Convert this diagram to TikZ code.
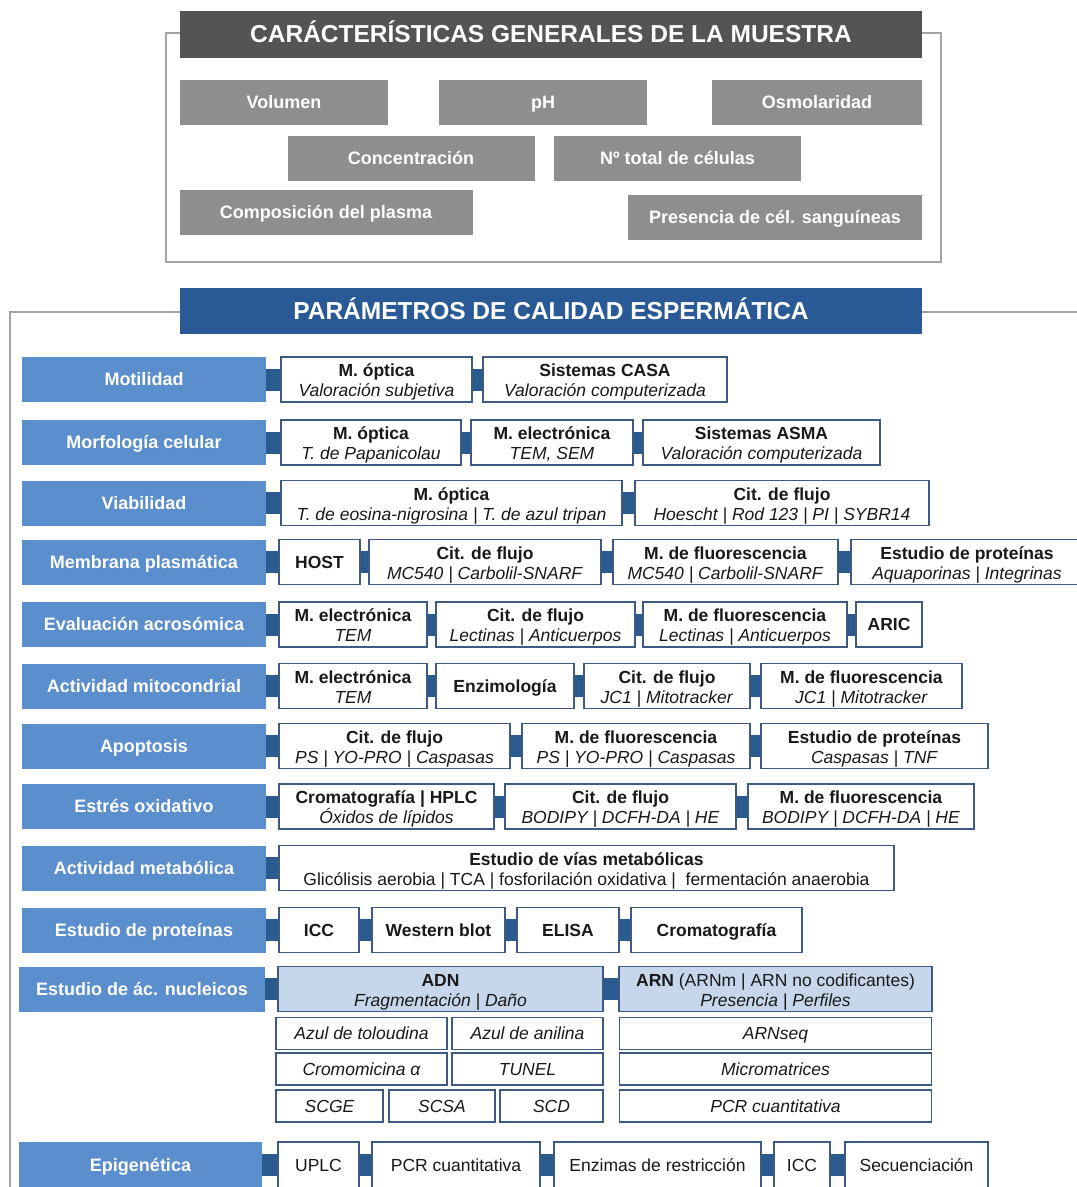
\documentclass[tikz,border=0pt]{standalone}
\usepackage{fontspec}
\setmainfont{Liberation Sans}
\usetikzlibrary{backgrounds}

\definecolor{graydark}{HTML}{545454}
\definecolor{featgray}{HTML}{8E8E8E}
\definecolor{titleblue}{HTML}{2A5A95}
\definecolor{parblue}{HTML}{5B8ECC}
\definecolor{linkblue}{HTML}{2B5A8F}
\definecolor{edgeblue}{HTML}{3D5B82}
\definecolor{nucblue}{HTML}{C6D6EB}
\definecolor{framegray}{HTML}{A3A3A3}

% two lines with fixed struts, so all boxes sit alike
\newcommand{\lineas}[2]{\rule{0pt}{18.5pt}#1\\#2\rule[-4pt]{0pt}{4pt}}
% bold technique + italic detail
\newcommand{\tecnica}[2]{\lineas{\textbf{#1}}{\textit{#2}}}

\begin{document}
\begin{tikzpicture}[x=1pt,y=-1pt,
  every node/.style={inner sep=0pt,outer sep=0pt,align=center},
  oneline/.style={text height=12.7pt,text depth=0pt},
  title/.style={text=white,minimum width=742pt,minimum height=47pt,text height=17.5pt,text depth=0pt,font=\bfseries\fontsize{24.5}{28}\selectfont},
  feature/.style={oneline,fill=featgray,text=white,minimum height=45pt,font=\bfseries\fontsize{18}{21}\selectfont},
  param/.style={oneline,fill=parblue,text=white,minimum width=244pt,minimum height=45pt,font=\bfseries\fontsize{18}{21}\selectfont},
  method/.style={draw=edgeblue,line width=1.3pt,fill=white,text=black!90,minimum height=45pt,font=\fontsize{17.5}{20}\selectfont},
  tag/.style={method,oneline},
  nucleic/.style={method,fill=nucblue},
  assay/.style={tag,minimum height=32pt,font=\itshape\fontsize{17.5}{20}\selectfont},
  link/.style={draw=linkblue,line width=22pt},
  frame/.style={draw=framegray,line width=1.4pt}]
\useasboundingbox (0,0) rectangle (1077,1187);

% general features of the sample
\draw[frame] (166,33) rectangle (941,262);
\path (551,34) node (muestra) [title,fill=graydark] {CARÁCTERÍSTICAS GENERALES DE LA MUESTRA};
\path (284,102) node (volumen) [feature,minimum width=208pt] {Volumen};
\path (543,102) node (ph) [feature,minimum width=208pt] {pH};
\path (817,102) node (osmol) [feature,minimum width=210pt] {Osmolaridad};
\path (411,158) node (concen) [feature,minimum width=247pt] {Concentración};
\path (677.5,158) node (ncel) [feature,minimum width=247pt] {Nº total de células};
\path (326,212) node (plasma) [feature,minimum width=293pt] {Composición del plasma};
\path (775,217) node (sangre) [feature,minimum width=294pt] {Presencia de cél. sanguíneas};

% sperm quality parameters
\draw[frame] (10,1195) -- (10,312) -- (1090,312);
\path (551,311) node (calidad) [title,fill=titleblue,minimum height=46pt] {PARÁMETROS DE CALIDAD ESPERMÁTICA};

\path (144,379.5) node (motil) [param] {Motilidad};
\path (376.5,379.5) node (motil1) [method,minimum width=191pt] {\tecnica{M. óptica}{Valoración subjetiva}};
\path (605,379.5) node (motil2) [method,minimum width=244pt] {\tecnica{Sistemas CASA}{Valoración computerizada}};

\path (144,442.5) node (morfo) [param] {Morfología celular};
\path (371,442.5) node (morfo1) [method,minimum width=180pt] {\tecnica{M. óptica}{T. de Papanicolau}};
\path (552,442.5) node (morfo2) [method,minimum width=162pt] {\tecnica{M. electrónica}{TEM, SEM}};
\path (761.5,442.5) node (morfo3) [method,minimum width=237pt] {\tecnica{Sistemas ASMA}{Valoración computerizada}};

\path (144,503) node (viab) [param] {Viabilidad};
\path (451.5,503) node (viab1) [method,minimum width=341pt] {\tecnica{M. óptica}{T. de eosina-nigrosina | T. de azul tripan}};
\path (782,503) node (viab2) [method,minimum width=294pt] {\tecnica{Cit. de flujo}{Hoescht | Rod 123 | PI | SYBR14}};

\path (144,562) node (membr) [param] {Membrana plasmática};
\path (319.5,562) node (membr1) [tag,minimum width=81pt] {\textbf{HOST}};
\path (485,562) node (membr2) [method,minimum width=232pt] {\tecnica{Cit. de flujo}{MC540 | Carbolil-SNARF}};
\path (725.5,562) node (membr3) [method,minimum width=225pt] {\tecnica{M. de fluorescencia}{MC540 | Carbolil-SNARF}};
\path (967,562) node (membr4) [method,minimum width=232pt] {\tecnica{Estudio de proteínas}{Aquaporinas | Integrinas}};

\path (144,624.5) node (acros) [param] {Evaluación acrosómica};
\path (353,624.5) node (acros1) [method,minimum width=148pt] {\tecnica{M. electrónica}{TEM}};
\path (535.5,624.5) node (acros2) [method,minimum width=199pt] {\tecnica{Cit. de flujo}{Lectinas | Anticuerpos}};
\path (745,624.5) node (acros3) [method,minimum width=204pt] {\tecnica{M. de fluorescencia}{Lectinas | Anticuerpos}};
\path (889,624.5) node (acros4) [tag,minimum width=66pt] {\textbf{ARIC}};

\path (144,686) node (mitoc) [param] {Actividad mitocondrial};
\path (353,686) node (mitoc1) [method,minimum width=148pt] {\tecnica{M. electrónica}{TEM}};
\path (505,686) node (mitoc2) [tag,minimum width=138pt] {\textbf{Enzimología}};
\path (667,686) node (mitoc3) [method,minimum width=166pt] {\tecnica{Cit. de flujo}{JC1 | Mitotracker}};
\path (861.5,686) node (mitoc4) [method,minimum width=201pt] {\tecnica{M. de fluorescencia}{JC1 | Mitotracker}};

\path (144,746) node (apopt) [param] {Apoptosis};
\path (394.5,746) node (apopt1) [method,minimum width=231pt] {\tecnica{Cit. de flujo}{PS | YO-PRO | Caspasas}};
\path (636,746) node (apopt2) [method,minimum width=228pt] {\tecnica{M. de fluorescencia}{PS | YO-PRO | Caspasas}};
\path (874.5,746) node (apopt3) [method,minimum width=227pt] {\tecnica{Estudio de proteínas}{Caspasas | TNF}};

\path (144,806.5) node (estres) [param] {Estrés oxidativo};
\path (386.5,806.5) node (estres1) [method,minimum width=215pt] {\tecnica{Cromatografía | HPLC}{Óxidos de lípidos}};
\path (620.5,806.5) node (estres2) [method,minimum width=231pt] {\tecnica{Cit. de flujo}{BODIPY | DCFH-DA | HE}};
\path (861,806.5) node (estres3) [method,minimum width=226pt] {\tecnica{M. de fluorescencia}{BODIPY | DCFH-DA | HE}};

\path (144,868) node (metab) [param] {Actividad metabólica};
\path (586.5,868) node (metab1) [method,minimum width=615pt] {\lineas{\textbf{Estudio de vías metabólicas}}{Glicólisis aerobia | TCA | fosforilación oxidativa |\ \ fermentación anaerobia}};

\path (144,930) node (prot) [param] {Estudio de proteínas};
\path (319,930) node (prot1) [tag,minimum width=80pt] {\textbf{ICC}};
\path (438.5,930) node (prot2) [tag,minimum width=133pt] {\textbf{Western blot}};
\path (568,930) node (prot3) [tag,minimum width=102pt] {\textbf{ELISA}};
\path (716.5,930) node (prot4) [tag,minimum width=171pt] {\textbf{Cromatografía}};

\path (142,989) node (nucl) [param,minimum width=246pt] {Estudio de ác. nucleicos};
\path (440.5,989) node (adn) [nucleic,minimum width=325pt] {\tecnica{ADN}{Fragmentación | Daño}};
\path (775.5,989) node (arn) [nucleic,minimum width=313pt] {\lineas{\textbf{ARN} (ARNm | ARN no codificantes)}{\textit{Presencia | Perfiles}}};
\path (361.5,1033.5) node (tolu) [assay,minimum width=171pt] {Azul de toloudina};
\path (527.5,1033.5) node (anil) [assay,minimum width=151pt] {Azul de anilina};
\path (361.5,1069) node (cromo) [assay,minimum width=171pt] {Cromomicina α};
\path (527.5,1069) node (tunel) [assay,minimum width=151pt] {TUNEL};
\path (329.5,1106) node (scge) [assay,minimum width=107pt] {SCGE};
\path (442,1106) node (scsa) [assay,minimum width=106pt] {SCSA};
\path (551.5,1106) node (scd) [assay,minimum width=103pt] {SCD};
\path (775.5,1033.5) node (arnseq) [assay,minimum width=312pt] {ARNseq};
\path (775.5,1069) node (micro) [assay,minimum width=312pt] {Micromatrices};
\path (775.5,1106) node (qpcr) [assay,minimum width=312pt] {PCR cuantitativa};

\path (140.5,1165) node (epig) [param,minimum width=243pt,minimum height=46pt] {Epigenética};
\path (318.5,1165) node (epig1) [tag,minimum width=81pt,minimum height=46pt] {UPLC};
\path (456,1165) node (epig2) [tag,minimum width=168pt,minimum height=46pt] {PCR cuantitativa};
\path (657.5,1165) node (epig3) [tag,minimum width=207pt,minimum height=46pt] {Enzimas de restricción};
\path (802,1165) node (epig4) [tag,minimum width=56pt,minimum height=46pt] {ICC};
\path (916.5,1165) node (epig5) [tag,minimum width=143pt,minimum height=46pt] {Secuenciación};

% joints between the boxes, behind them
\begin{scope}[on background layer]
\draw [link] (motil.east) -- (motil1.west);
\draw [link] (motil1.east) -- (motil2.west);
\draw [link] (morfo.east) -- (morfo1.west);
\draw [link] (morfo1.east) -- (morfo2.west);
\draw [link] (morfo2.east) -- (morfo3.west);
\draw [link] (viab.east) -- (viab1.west);
\draw [link] (viab1.east) -- (viab2.west);
\draw [link] (membr.east) -- (membr1.west);
\draw [link] (membr1.east) -- (membr2.west);
\draw [link] (membr2.east) -- (membr3.west);
\draw [link] (membr3.east) -- (membr4.west);
\draw [link] (acros.east) -- (acros1.west);
\draw [link] (acros1.east) -- (acros2.west);
\draw [link] (acros2.east) -- (acros3.west);
\draw [link] (acros3.east) -- (acros4.west);
\draw [link] (mitoc.east) -- (mitoc1.west);
\draw [link] (mitoc1.east) -- (mitoc2.west);
\draw [link] (mitoc2.east) -- (mitoc3.west);
\draw [link] (mitoc3.east) -- (mitoc4.west);
\draw [link] (apopt.east) -- (apopt1.west);
\draw [link] (apopt1.east) -- (apopt2.west);
\draw [link] (apopt2.east) -- (apopt3.west);
\draw [link] (estres.east) -- (estres1.west);
\draw [link] (estres1.east) -- (estres2.west);
\draw [link] (estres2.east) -- (estres3.west);
\draw [link] (metab.east) -- (metab1.west);
\draw [link] (prot.east) -- (prot1.west);
\draw [link] (prot1.east) -- (prot2.west);
\draw [link] (prot2.east) -- (prot3.west);
\draw [link] (prot3.east) -- (prot4.west);
\draw [link] (nucl.east) -- (adn.west);
\draw [link] (adn.east) -- (arn.west);
\draw [link] (epig.east) -- (epig1.west);
\draw [link] (epig1.east) -- (epig2.west);
\draw [link] (epig2.east) -- (epig3.west);
\draw [link] (epig3.east) -- (epig4.west);
\draw [link] (epig4.east) -- (epig5.west);
\end{scope}
\end{tikzpicture}
\end{document}
